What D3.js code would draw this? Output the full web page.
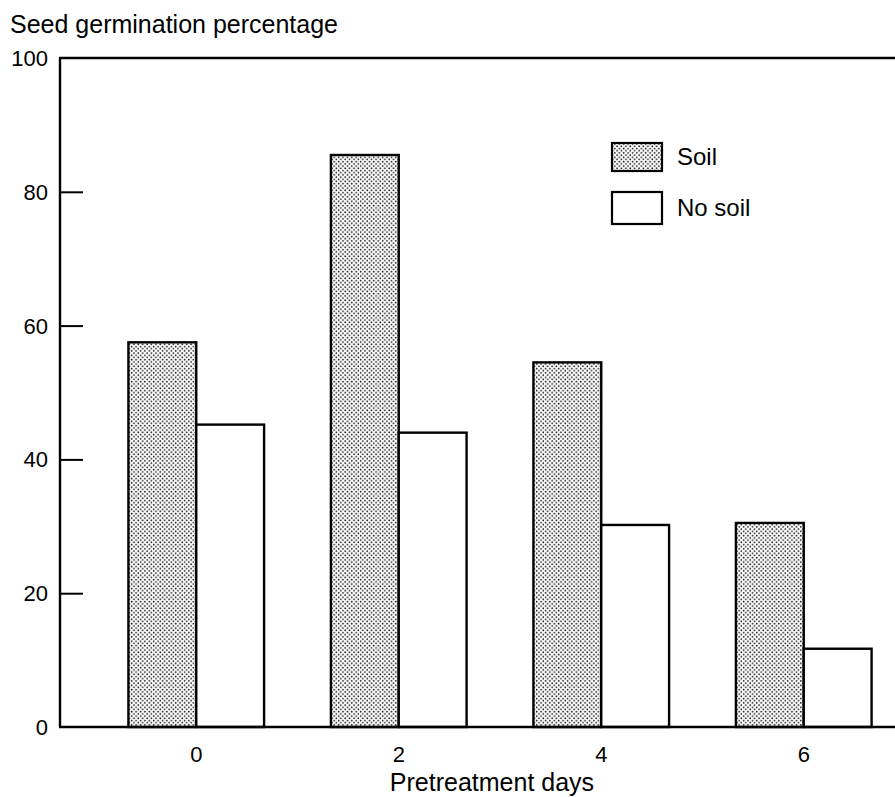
<!DOCTYPE html>
<html>
<head>
<meta charset="utf-8">
<script src="https://cdn.jsdelivr.net/npm/d3@7"></script>
<style>
  html, body { margin: 0; padding: 0; background: #fff; }
  svg { display: block; font-family: "Liberation Sans", Arial, Helvetica, sans-serif; }
</style>
</head>
<body>
<script>
// ---- data ----
const categories = ["0", "2", "4", "6"];
const seriesNames = ["Soil", "No soil"];
const soilValues = [57.5, 85.5, 54.5, 30.5];
const noSoilValues = [45.2, 44.0, 30.2, 11.7];
const yTicks = [0, 20, 40, 60, 80, 100];
const yTitle = "Seed germination percentage";
const xTitle = "Pretreatment days";

(function () {
const W = 895, H = 797;
const mLeft = 60, mTop = 58, mBottom = 727, mRight = 895;

const svg = d3.select("body").append("svg").attr("width", W).attr("height", H);

const defs = svg.append("defs");
const pat = defs.append("pattern").attr("id", "dots")
  .attr("patternUnits", "userSpaceOnUse").attr("width", 4.4).attr("height", 4.4);
pat.append("rect").attr("width", 4.4).attr("height", 4.4).attr("fill", "#fff");
pat.append("circle").attr("cx", 1.1).attr("cy", 1.1).attr("r", 0.85).attr("fill", "#111");
pat.append("circle").attr("cx", 3.3).attr("cy", 3.3).attr("r", 0.85).attr("fill", "#111");

const y = d3.scaleLinear().domain([0, 100]).range([mBottom, mTop]);
const x = d3.scaleBand().domain(categories).range([95, 905]).paddingInner(0.33).paddingOuter(0.165);
const xs = d3.scaleBand().domain(seriesNames).range([0, x.bandwidth()]);

const rows = categories.map((c, i) => ({ cat: c, vals: [
  { s: "Soil", v: soilValues[i] }, { s: "No soil", v: noSoilValues[i] } ] }));

// bars
const g = svg.append("g");
g.selectAll("g.grp").data(rows).join("g").attr("class", "grp")
  .attr("transform", d => `translate(${x(d.cat)},0)`)
  .selectAll("rect").data(d => d.vals).join("rect")
  .attr("x", d => xs(d.s))
  .attr("y", d => y(d.v))
  .attr("width", xs.bandwidth())
  .attr("height", d => y(0) - y(d.v))
  .attr("fill", d => d.s === "Soil" ? "url(#dots)" : "#fff")
  .attr("stroke", "#000").attr("stroke-width", 2.4);

// frame: left, top, bottom
svg.append("line").attr("x1", mLeft).attr("x2", mLeft).attr("y1", mTop).attr("y2", mBottom)
  .attr("stroke", "#000").attr("stroke-width", 2.4);
svg.append("line").attr("x1", mLeft - 1).attr("x2", mRight).attr("y1", mTop).attr("y2", mTop)
  .attr("stroke", "#000").attr("stroke-width", 2.4);
svg.append("line").attr("x1", mLeft - 1).attr("x2", mRight).attr("y1", mBottom).attr("y2", mBottom)
  .attr("stroke", "#000").attr("stroke-width", 2.4);

// y axis (inward ticks)
const yAxis = d3.axisRight(y).tickValues(yTicks.slice(1, -1)).tickSize(23).tickFormat("");
const ya = svg.append("g").attr("transform", `translate(${mLeft},0)`).call(yAxis);
ya.select(".domain").remove();
ya.selectAll("line").attr("stroke", "#000").attr("stroke-width", 2);

svg.append("g").selectAll("text").data(yTicks).join("text")
  .attr("x", 48).attr("y", d => y(d) + 8)
  .attr("text-anchor", "end").attr("font-size", 22).attr("fill", "#000")
  .text(d => d);

// x labels
const xa = d3.axisBottom(x).tickSize(0).tickPadding(0);
const xg = svg.append("g").attr("transform", `translate(0,${mBottom})`).call(xa);
xg.select(".domain").remove();
xg.selectAll("text").attr("font-size", 22).attr("font-family", "Liberation Sans, Arial, sans-serif")
  .attr("fill", "#000").attr("dy", 0).attr("y", 35);

// titles
svg.append("text").attr("x", 10).attr("y", 33).attr("font-size", 25).attr("fill", "#000").text(yTitle);
svg.append("text").attr("x", 492).attr("y", 791).attr("text-anchor", "middle")
  .attr("font-size", 25).attr("fill", "#000").text(xTitle);

// legend
const legend = [
  { name: "Soil", fill: "url(#dots)", y0: 143, h: 28 },
  { name: "No soil", fill: "#fff", y0: 192, h: 32 }
];
const lg = svg.append("g");
lg.selectAll("rect").data(legend).join("rect")
  .attr("x", 612).attr("y", d => d.y0).attr("width", 50).attr("height", d => d.h)
  .attr("fill", d => d.fill).attr("stroke", "#000").attr("stroke-width", 2.2);
lg.selectAll("text").data(legend).join("text")
  .attr("x", 677).attr("y", d => d.y0 + d.h / 2 + 8)
  .attr("font-size", 24).attr("fill", "#000").text(d => d.name);
})();
</script>
</body>
</html>
